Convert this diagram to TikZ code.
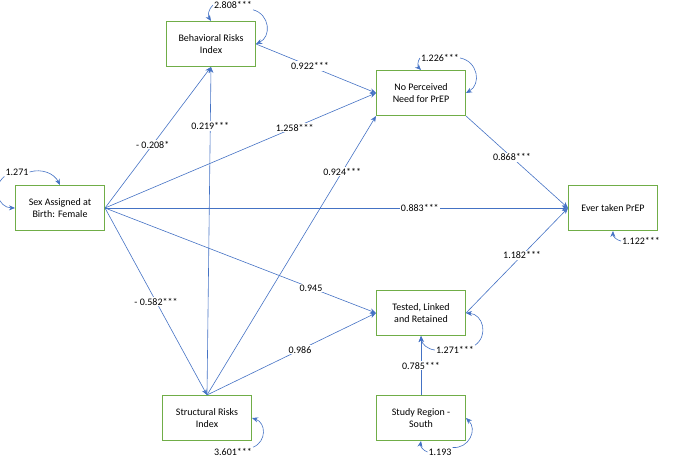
\documentclass[tikz,border=0pt]{standalone}
\usepackage{fontspec}
\setmainfont{Carlito}
\usetikzlibrary{arrows.meta}
\definecolor{boxgreen}{RGB}{112,173,71}
\definecolor{arrblue}{RGB}{68,114,196}
\tikzset{
	var/.style={draw=boxgreen,line width=1pt,minimum width=89pt,minimum height=45pt,align=center,font=\fontsize{10}{12}\selectfont},
	path/.style={draw=arrblue,line width=0.6pt,-{Stealth[length=6pt,width=5pt]}},
	coef/.style={fill=white,inner sep=1pt,font=\fontsize{10}{12}\selectfont},
	resid/.style={inner sep=1pt,font=\fontsize{10}{12}\selectfont}
}
\begin{document}
\begin{tikzpicture}[x=1pt,y=-1pt]
	\useasboundingbox (0,0) rectangle (685,457);
	\node[var] (beh) at (211,44) {Behavioral Risks\\Index};
	\node[var] (need) at (421,93) {No Perceived\\Need for PrEP};
	\node[var] (sex) at (60,208) {Sex Assigned at\\Birth: Female};
	\node[var] (ever) at (613,208) {Ever taken PrEP};
	\node[var] (test) at (421,313) {Tested, Linked\\and Retained};
	\node[var] (str) at (207,418) {Structural Risks\\Index};
	\node[var] (reg) at (421,418) {Study Region -\\South};
	% paths
	\coordinate (sexR) at (105,208);
	\draw[path] (sexR) -- (beh.south) node[coef,pos=0.45] {- 0.208*};
	\draw[path] (str.north) -- (beh.south) node[coef,pos=0.82] {0.219***};
	\draw[path] (sexR) -- (need.west) node[coef,pos=0.7] {1.258***};
	\draw[path] (str.north) -- (need.south west) node[coef,pos=0.8] {0.924***};
	\draw[path] (beh.east) -- (need.west) node[coef,pos=0.45] {0.922***};
	\draw[path] (need.south east) -- (ever.west) node[coef,pos=0.45] {0.868***};
	\draw[path] (sexR) -- (ever.west) node[coef,pos=0.68] {0.883***};
	\draw[path] (sexR) -- (test.west) node[coef,pos=0.76] {0.945};
	\draw[path] (str.north) -- (test.west) node[coef,pos=0.55] {0.986};
	\draw[path] (sexR) -- (str.north) node[coef,pos=0.5] {- 0.582***};
	\draw[path] (test.east) -- (ever.west) node[coef,pos=0.55] {1.182***};
	\draw[path] (reg.north) -- (test.south) node[coef,pos=0.5] {0.785***};
	% residuals
	\node[resid] (rbeh) at (233,5) {2.808***};
	\draw[path] (rbeh.west) to[bend right=40] (beh.north);
	\draw[path] (rbeh.south east) to[bend left=70,looseness=1.3] (beh.east);
	\node[resid] (rneed) at (440,58) {1.226***};
	\draw[path] (rneed.west) to[bend right=40] (need.north);
	\draw[path] (rneed.east) to[bend left=70,looseness=1.3] (need.east);
	\node[resid] (rsex) at (17,172) {1.271};
	\draw[path] (rsex.east) to[bend left=40] (sex.north);
	\draw[path] (rsex.south west) to[bend right=70,looseness=1.3] (sex.west);
	\node[resid] (rever) at (641,241) {1.122***};
	\draw[path] (rever.west) to[bend left=40] (ever.south);
	\node[resid] (rtest) at (455,350) {1.271***};
	\draw[path] (rtest.west) to[bend left=40] (test.south);
	\draw[path] (rtest.north east) to[bend right=70,looseness=1.3] (test.east);
	\node[resid] (rstr) at (233,452) {3.601***};
	\draw[path] (rstr.north east) to[bend right=70,looseness=1.3] (str.east);
	\node[resid] (rreg) at (440,452) {1.193};
	\draw[path] (rreg.west) to[bend left=40] (reg.south);
	\draw[path] (rreg.north east) to[bend right=70,looseness=1.3] (reg.east);
\end{tikzpicture}
\end{document}
